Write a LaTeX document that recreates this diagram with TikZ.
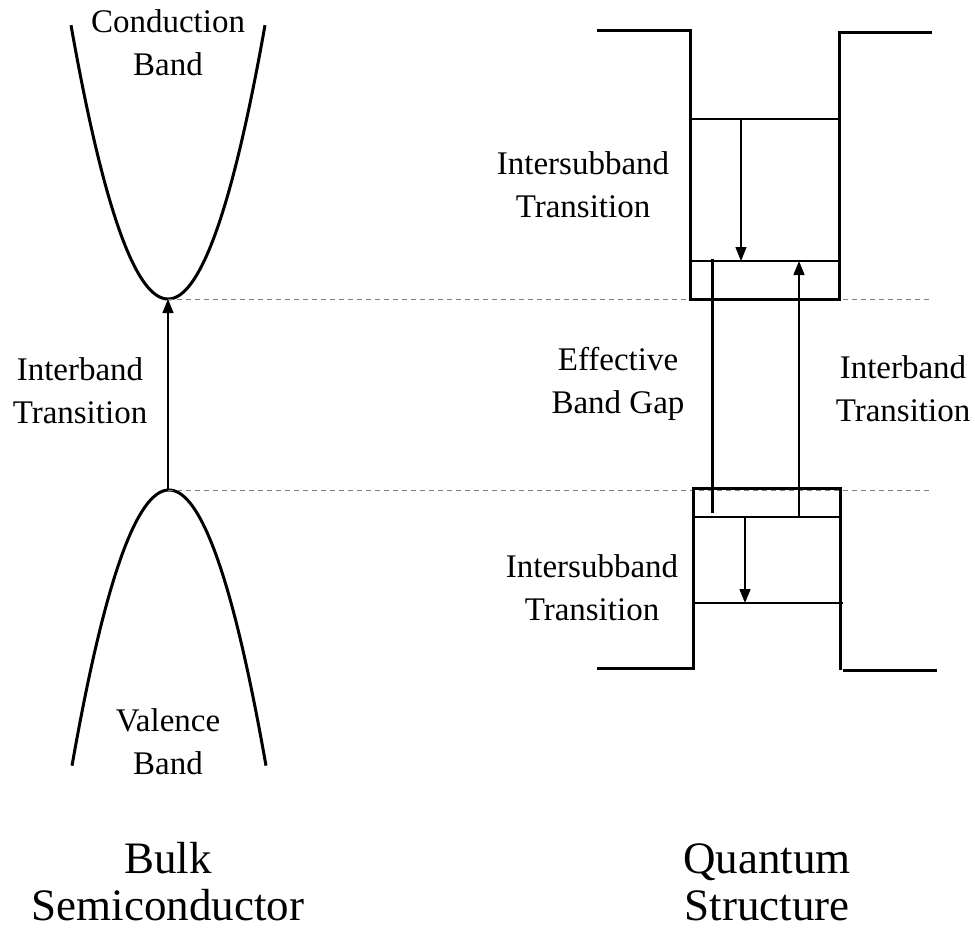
\documentclass[tikz,border=0pt]{standalone}
\usepackage{fontspec}
\setmainfont{Liberation Serif}
\usetikzlibrary{arrows.meta}
\begin{document}
\begin{tikzpicture}[x=1pt,y=-1pt,
  band/.style={line width=3pt, line join=miter},
  level/.style={line width=1.4pt},
  guide/.style={gray, line width=1pt, dash pattern=on 5pt off 4pt},
  trans/.style={line width=1.4pt, -{Triangle[length=14pt,width=11pt]}},
  lbl/.style={align=center, font=\fontsize{33}{43}\selectfont, inner sep=0pt},
  big/.style={align=center, font=\fontsize{45}{47}\selectfont, inner sep=0pt}]
\useasboundingbox (0,0) rectangle (975,930);

% ---- Bulk semiconductor ----
\coordinate (cbmin) at (168,299);
\coordinate (vbmax) at (168,490);
\draw[band] plot[domain=-97:97, samples=90] ({168+\x},{299-0.0291*\x*\x});
\draw[band] plot[domain=-97:97, samples=90] ({169+\x},{490+0.0293*\x*\x});
\draw[trans] (vbmax) -- (cbmin);

% dashed guides
\coordinate (g1e) at (930,299);
\coordinate (g2e) at (930,490);
\draw[guide] (cbmin) -- (g1e);
\draw[guide] (vbmax) -- (g2e);

% ---- Quantum structure: conduction well ----
\coordinate (c1) at (597,30);
\coordinate (c2) at (690,30);
\coordinate (c3) at (690,299);
\coordinate (c4) at (839,299);
\coordinate (c5) at (839,32);
\coordinate (c6) at (932,32);
\draw[band] (c1) -- (c2) -- (c3) -- (c4) -- (c5) -- (c6);

\coordinate (e2l) at (691,119);
\coordinate (e2r) at (841,119);
\coordinate (e1l) at (691,261);
\coordinate (e1r) at (841,261);
\draw[level] (e2l) -- (e2r);
\draw[level] (e1l) -- (e1r);
\coordinate (ta) at (741,119);
\coordinate (tb) at (741,261);
\draw[trans] (ta) -- (tb);

% ---- valence well ----
\coordinate (v1) at (597,668);
\coordinate (v2) at (693,668);
\coordinate (v3) at (693,488);
\coordinate (v4) at (840,488);
\coordinate (v5) at (840,670);
\coordinate (v6) at (843,670);
\coordinate (v7) at (937,670);
\draw[band] (v1) -- (v2) -- (v3) -- (v4) -- (v5);
\draw[band] (v6) -- (v7);

\coordinate (h1l) at (693,517);
\coordinate (h1r) at (840,517);
\coordinate (h2l) at (695,603);
\coordinate (h2r) at (843,603);
\draw[level] (h1l) -- (h1r);
\draw[level] (h2l) -- (h2r);
\coordinate (tc) at (745,517);
\coordinate (td) at (745,603);
\draw[trans] (tc) -- (td);

% effective band gap bar
\coordinate (gtop) at (712,259);
\coordinate (gbot) at (712,513);
\draw[band] (gtop) -- (gbot);

% interband transition in well
\coordinate (ib0) at (799,517);
\coordinate (ib1) at (799,261);
\draw[trans] (ib0) -- (ib1);

% ---- labels ----
\node[lbl] (cb) at (168,43) {Conduction\\Band};
\node[lbl] (vb) at (168,742) {Valence\\Band};
\node[lbl] (ibl) at (80,391) {Interband\\Transition};
\node[lbl] (isu) at (583,185) {Intersubband\\Transition};
\node[lbl] (ebg) at (618,384) {Effective\\Band Gap};
\node[lbl] (ibr) at (903,389) {Interband\\Transition};
\node[lbl] (isl) at (592,588) {Intersubband\\Transition};
\node[big] (bulk) at (168,882) {Bulk\\Semiconductor};
\node[big] (qs) at (767,882) {Quantum\\Structure};
\end{tikzpicture}
\end{document}
